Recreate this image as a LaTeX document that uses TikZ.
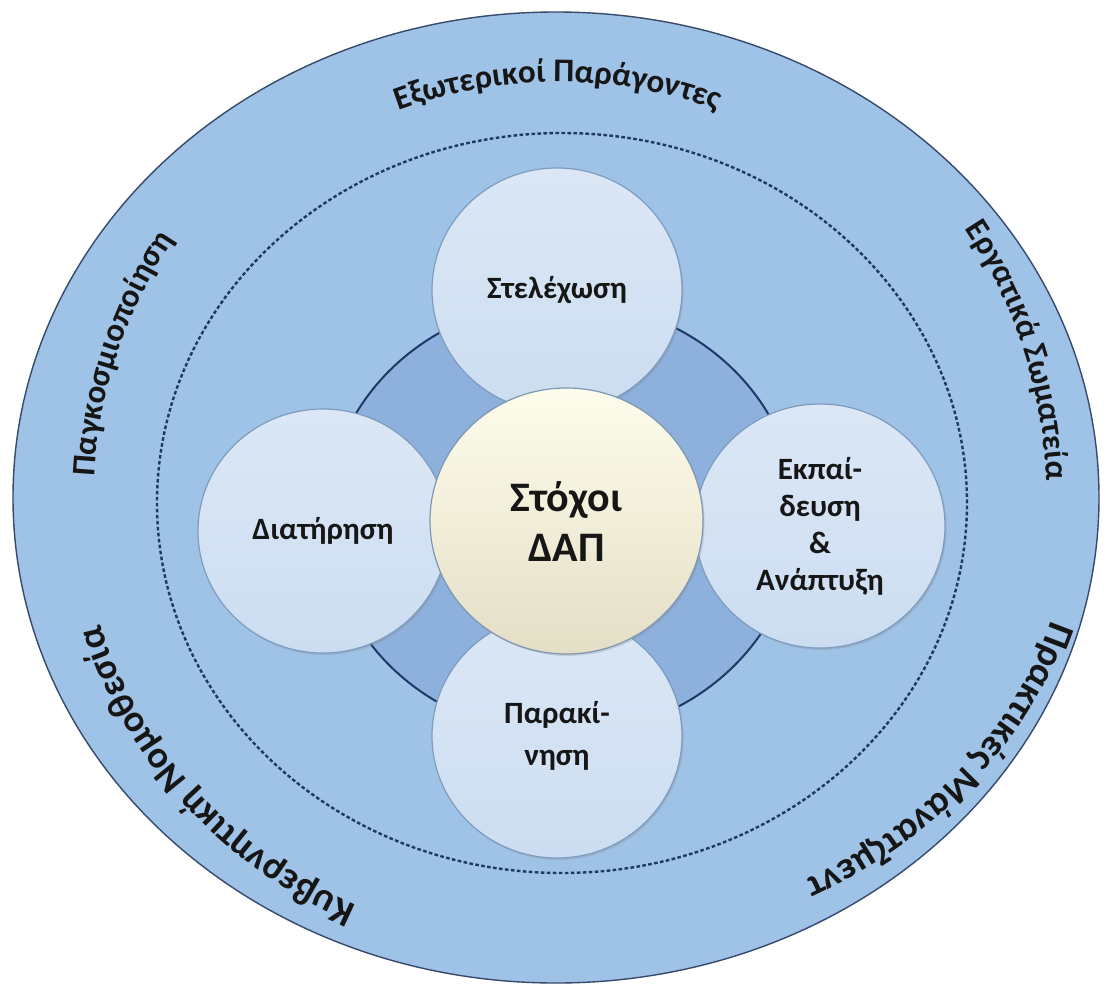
\documentclass[tikz,border=0pt]{standalone}
\usepackage{fontspec}
\setmainfont{Carlito}
\usepackage{tikz}
\usepackage{xcolor}
\usetikzlibrary{shapes.geometric}
\usetikzlibrary{shadows}
\usetikzlibrary{decorations.text}

\definecolor{bandblue}{HTML}{9FC2E7}
\definecolor{ringblue}{HTML}{8DB1DC}
\definecolor{navy}{HTML}{1F3864}
\definecolor{satblue}{HTML}{CCDDF1}
\definecolor{satline}{HTML}{7E9CC0}
\definecolor{goalbeige}{HTML}{E4DEC6}
\definecolor{inkdark}{HTML}{161616}

\newcommand\ringfont{\bfseries\fontsize{16.5}{19}\selectfont}
\newcommand\lowringfont{\bfseries\fontsize{19}{22}\selectfont}

\begin{document}
\begin{tikzpicture}[x=0.5pt,y=0.5pt,
sat/.style={ellipse,draw=satline,line width=0.6pt,
  top color=satblue!70!white,bottom color=satblue,
  minimum width=125pt,minimum height=122pt,inner sep=0pt,
  align=center,text=inkdark,font=\bfseries\fontsize{15.5}{18.5}\selectfont,
  drop shadow={shadow xshift=0.8pt,shadow yshift=-1pt,opacity=0.25}},
goal/.style={ellipse,draw=satline!80!gray,line width=0.6pt,
  top color=goalbeige!50!yellow!12!white,bottom color=goalbeige,
  minimum width=136.5pt,minimum height=133pt,inner sep=0pt,
  align=center,text=inkdark,font=\bfseries\fontsize{21}{25}\selectfont,
  drop shadow={shadow xshift=0.8pt,shadow yshift=-1pt,opacity=0.25}},
ringtext/.style={decorate,decoration={text along path,text align=center,text color=inkdark}}
]
\fill[white] (-558,-492) rectangle (548,500);
\useasboundingbox (-558,-492) rectangle (548,500);

\draw[draw=navy!75!gray,line width=0.7pt,fill=bandblue] (-2,2.5) ellipse [x radius=543,y radius=485.5];
\draw[navy,line width=1.2pt,dash pattern=on 1.8pt off 1.2pt] (4,-3) ellipse [x radius=405,y radius=370];
\draw[navy,line width=1pt,fill=ringblue] (4,-18) ellipse [x radius=235,y radius=217];

\node[sat] (staff) at (-1,210) {Στελέχωση};
\node[sat] (keep) at (-235,-31) {Διατήρηση};
\node[sat,font=\bfseries\fontsize{15.5}{18.5}\selectfont] (train) at (262,-26) {Εκπαί-\\δευση\\\&\\Ανάπτυξη};
\node[sat,font=\bfseries\fontsize{15.5}{21}\selectfont] (motive) at (-1,-236) {Παρακί-\\νηση};
\node[goal] (goal) at (8.5,-21) {Στόχοι\\ΔΑΠ};

\path[ringtext,decoration={text={|\ringfont|Εξωτερικοί Παράγοντες}}]
  (130:440 and 418) arc[start angle=130,end angle=50,x radius=440,y radius=418];
\path[ringtext,decoration={text={|\ringfont|Εργατικά Σωματεία}}]
  (58:489) arc[start angle=58,end angle=-22,radius=489];
\path[ringtext,decoration={text={|\ringfont|Παγκοσμιοποίηση}}]
  (201.5:464) arc[start angle=201.5,end angle=121.5,radius=464];
\path[ringtext,decoration={text={|\lowringfont|Κυβερνητική Νομοθεσία}}]
  (265:476 and 447) arc[start angle=265,end angle=175,x radius=476,y radius=447];
\path[ringtext,decoration={text={|\lowringfont|Πρακτικές Μάνατζμεντ}}]
  (8:514 and 433) arc[start angle=8,end angle=-82,x radius=514,y radius=433];
\end{tikzpicture}
\end{document}
